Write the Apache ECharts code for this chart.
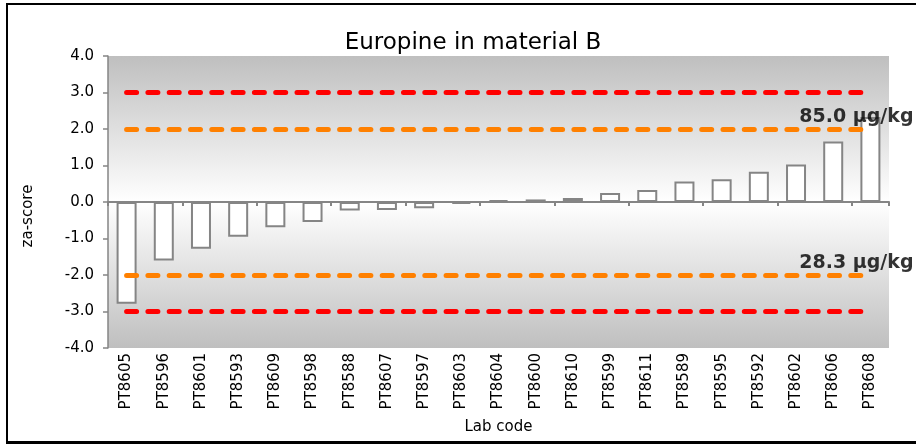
<!DOCTYPE html>
<html>
<head>
<meta charset="utf-8">
<script src="https://cdn.jsdelivr.net/npm/echarts@6/dist/echarts.min.js"></script>
<style>
  html, body { margin: 0; padding: 0; background: #ffffff; }
  #frame {
    position: absolute; left: 6px; top: 3px; width: 960px; height: 441px;
    box-sizing: border-box; border: 2px solid #000; border-bottom-width: 3px;
  }
  #chart { position: absolute; left: 0; top: 0; width: 916px; height: 445px; }
</style>
</head>
<body>
<div id="frame"></div>
<div id="chart"></div>
<script>
// Participating laboratories, sorted by za-score
const labCodes = ['PT8605', 'PT8596', 'PT8601', 'PT8593', 'PT8609', 'PT8598', 'PT8588',
  'PT8607', 'PT8597', 'PT8603', 'PT8604', 'PT8600', 'PT8610', 'PT8599', 'PT8611',
  'PT8589', 'PT8595', 'PT8592', 'PT8602', 'PT8606', 'PT8608'];

// za-score per laboratory
const zaScores = [-2.79, -1.60, -1.28, -0.95, -0.69, -0.55, -0.23, -0.22, -0.17, -0.05,
  0.05, 0.07, 0.11, 0.25, 0.33, 0.56, 0.62, 0.83, 1.03, 1.66, 2.33];

// Action limits (|z| = 3) and warning limits (|z| = 2)
const actionLimits = [3, -3];
const warningLimits = [2, -2];
// Concentrations matching the upper / lower warning limits
const warningLabels = ['85.0 µg/kg', '28.3 µg/kg'];

// y-axis range and step
const yMin = -4, yMax = 4, yStep = 1;

const FONT = 'DejaVu Sans';
const first = labCodes[0], last = labCodes[labCodes.length - 1];

// Horizontal dashed limit line spanning first to last lab
function limitLines(values, color) {
  return values.map(v => [
    { xAxis: first, yAxis: v, lineStyle: { color: color, width: 5, type: [10, 11.3], cap: 'round' } },
    { xAxis: last, yAxis: v }
  ]);
}

const chart = echarts.init(document.getElementById('chart'), null, { renderer: 'canvas' });

chart.setOption({
  animation: false,
  title: {
    text: 'Europine in material B',
    left: 468, top: 27, textAlign: 'center',
    textStyle: { fontFamily: FONT, fontSize: 23, fontWeight: 'normal', color: '#000' }
  },
  grid: {
    left: 108, right: 27, top: 56, bottom: 97,
    show: true, borderWidth: 0,
    backgroundColor: new echarts.graphic.LinearGradient(0, 0, 0, 1, [
      { offset: 0, color: '#bfbfbf' },
      { offset: 0.5, color: '#ffffff' },
      { offset: 1, color: '#bfbfbf' }
    ])
  },
  xAxis: [
    {
      type: 'category', data: labCodes, position: 'bottom',
      axisLine: { show: false }, axisTick: { show: false },
      axisLabel: { rotate: 90, margin: 5, fontFamily: FONT, fontSize: 15, color: '#000' },
      name: 'Lab code', nameLocation: 'middle', nameGap: 72,
      nameTextStyle: { fontFamily: FONT, fontSize: 15, color: '#000' }
    },
    {
      type: 'category', data: labCodes, position: 'top',
      axisLine: { show: true, onZero: true, onZeroAxisIndex: 0, lineStyle: { color: '#858585', width: 2 } },
      axisTick: { show: true, inside: true, length: 4, lineStyle: { color: '#858585', width: 2 } },
      axisLabel: { show: false }
    }
  ],
  yAxis: {
    type: 'value', min: yMin, max: yMax, interval: yStep,
    axisLine: { show: true, lineStyle: { color: '#858585', width: 1.5 } },
    axisTick: { show: true, length: 5, lineStyle: { color: '#858585', width: 1.5 } },
    axisLabel: { margin: 14, fontFamily: FONT, fontSize: 15, color: '#000',
      formatter: v => v.toFixed(1) },
    splitLine: { show: false },
    name: 'za-score', nameLocation: 'middle', nameGap: 72,
    nameTextStyle: { fontFamily: FONT, fontSize: 15, color: '#000', padding: [0, 28, 0, 0] }
  },
  series: [
    {
      name: 'za-score', type: 'bar', data: zaScores, barWidth: 20,
      itemStyle: { color: '#ffffff', borderColor: '#858585', borderWidth: 2 },
      z: 2
    },
    {
      name: 'limits', type: 'line', data: [], z: 5,
      markLine: {
        silent: true, symbol: 'none', label: { show: false },
        data: [
          ...limitLines(actionLimits, '#ff0000'),
          ...limitLines(warningLimits, '#ff8000')
        ]
      }
    },
    {
      name: 'limit labels', type: 'scatter', symbolSize: 0, z: 6, silent: true,
      data: warningLimits.map((v, i) => ({ value: [last, v], name: warningLabels[i] })),
      label: {
        show: true, position: 'top', distance: 2, offset: [-14, 0],
        formatter: p => p.name,
        fontFamily: FONT, fontSize: 19, fontWeight: 'bold', color: '#000000',
        textBorderWidth: 0
      }
    }
  ]
});
</script>
</body>
</html>
